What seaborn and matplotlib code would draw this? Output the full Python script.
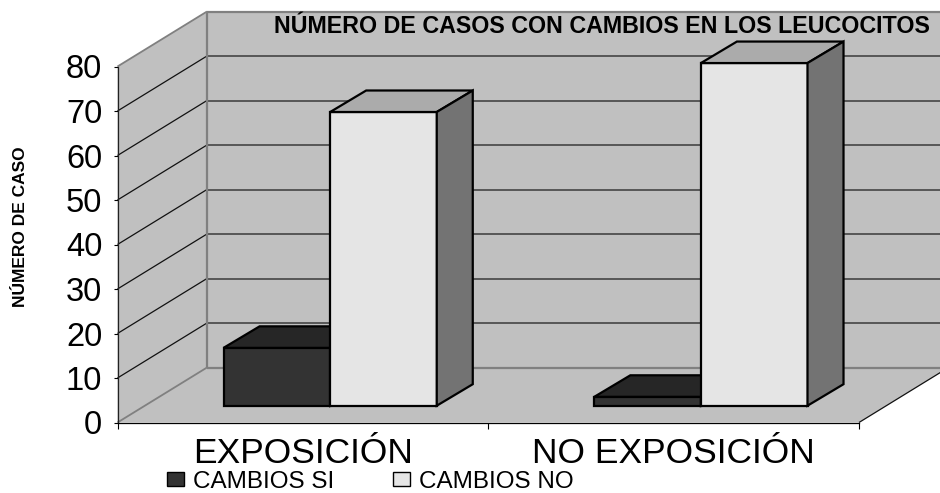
import matplotlib
matplotlib.use("Agg")
import matplotlib.pyplot as plt
from matplotlib.patches import Polygon
from matplotlib.transforms import Affine2D, Bbox
import numpy as np
import pandas as pd
import seaborn as sns

categories = ["EXPOSICIÓN", "NO EXPOSICIÓN"]
series_names = ["CAMBIOS SI", "CAMBIOS NO"]
cambios_si = [13, 2]
cambios_no = [66, 77]
y_ticks = [0, 10, 20, 30, 40, 50, 60, 70, 80]
title = "NÚMERO DE CASOS CON CAMBIOS EN LOS LEUCOCITOS"
y_label = "NÚMERO DE CASOS"

W, H = 940, 493
WALL = "#C0C0C0"
EDGE_GREY = "#808080"
COLORS = ["#333333", "#E5E5E5"]
TOPS = ["#262626", "#ABABAB"]
SIDES = ["#262626", "#737373"]

sns.set_theme(style="white")
plt.rcParams["font.family"] = ["Liberation Sans", "DejaVu Sans"]

df = pd.DataFrame({
    "cat": categories * 2,
    "serie": [series_names[0]] * 2 + [series_names[1]] * 2,
    "val": cambios_si + cambios_no,
})

fig = plt.figure(figsize=(W / 100, H / 100), dpi=100, facecolor="white")
L, R, B, T = 117.5, 859, H - 422.5, H - 66.5
ax = fig.add_axes([L / W, B / H, (R - L) / W, (T - B) / H])
ax.patch.set_visible(False)

sns.barplot(data=df, x="cat", y="val", hue="serie", hue_order=series_names,
            palette=COLORS, saturation=1, width=0.575, gap=0, errorbar=None,
            edgecolor="black", linewidth=1.6, ax=ax)
ax.set_xlim(-0.5, 1.5)
ax.set_ylim(0, 80)
ax.set_xlabel("")
ax.set_ylabel("")

# projection offsets, screen pixels
wall_off = Affine2D().translate(89.5, 55)
bar_off = Affine2D().translate(27.3, 16.8)
depth = np.array([36, 21.5])
front = ax.transData
back = ax.transData + wall_off
x0, x1 = ax.get_xlim()
ymax = ax.get_ylim()[1]


def poly(points, color, z, edge="none", lw=0):
    ax.add_patch(Polygon(points, closed=True, transform=None, facecolor=color,
                         edgecolor=edge, linewidth=lw, zorder=z, clip_on=False))


def seg(a, b, color, lw, z):
    ax.plot([a[0], b[0]], [a[1], b[1]], color=color, lw=lw, zorder=z,
            transform=None, clip_on=False, solid_capstyle="butt", scalex=False, scaley=False)


fp = lambda x, y: front.transform((x, y))
bp = lambda x, y: back.transform((x, y))

# walls and floor
poly([fp(x0, 0), fp(x0, ymax), bp(x0, ymax), bp(x0, 0)], WALL, 0.2)
poly([bp(x0, 0), bp(x0, ymax), bp(x1, ymax), bp(x1, 0)], WALL, 0.2)
poly([fp(x0, 0), fp(x1, 0), bp(x1, 0), bp(x0, 0)], WALL, 0.2)

for v in y_ticks[1:-1]:
    seg(fp(x0, v), bp(x0, v), "#111111", 0.9, 0.4)
    seg(bp(x0, v), bp(x1, v), "#3a3a3a", 1.1, 0.4)
seg(fp(x0, ymax), bp(x0, ymax), EDGE_GREY, 1.3, 0.5)
seg(bp(x0, ymax), bp(x1, ymax), EDGE_GREY, 1.6, 0.5)
seg(bp(x0, 0), bp(x0, ymax), EDGE_GREY, 1.6, 0.5)
seg(fp(x0, 0), bp(x0, 0), EDGE_GREY, 1.3, 0.5)
seg(bp(x0, 0), bp(x1, 0), EDGE_GREY, 1.6, 0.5)
seg(fp(x1, 0), bp(x1, 0), "#111111", 0.9, 0.5)

# bars: seaborn's rectangles shifted into the scene, faces derived from them
for s, container in enumerate(ax.containers):
    for rect in container:
        xa, xb = rect.get_x(), rect.get_x() + rect.get_width()
        h = rect.get_height()
        tr = ax.transData + bar_off
        rect.set_transform(tr)
        rect.set_clip_on(False)
        rect.set_zorder(2 + s)
        a = tr.transform((xa, h))
        b = tr.transform((xb, h))
        c = tr.transform((xb, 0))
        poly([a, b, b + depth, a + depth], TOPS[s], 2 + s, "black", 1.6)
        poly([b, c, c + depth, b + depth], SIDES[s], 2 + s, "black", 1.6)

# axes furniture
for side in ["top", "right"]:
    ax.spines[side].set_visible(False)
ax.spines["left"].set_color("#222222")
ax.spines["bottom"].set_color("black")
for side in ["left", "bottom"]:
    ax.spines[side].set_linewidth(0.9)
    ax.spines[side].set_zorder(1)

ax.set_yticks(y_ticks)
ax.set_xticks([-0.5, 0.5, 1.5])
ax.set_xticklabels([])
ax.set_xticks([0, 1], labels=categories, minor=True)
ax.tick_params(axis="y", left=True, length=3, width=0.8, color="black", pad=8,
               labelsize=23.5, labelcolor="black")
ax.tick_params(axis="x", which="major", bottom=True, length=4, width=0.8, color="black")
ax.tick_params(axis="x", which="minor", bottom=False, length=0, pad=10.5,
               labelsize=25.5, labelcolor="black")

fig.text(274 / W, 1 - 32.7 / H, title, fontsize=16.75, fontweight="bold", color="black",
         ha="left", va="baseline")
yl = fig.text(21 / W, 1 - 221 / H, y_label, fontsize=12.5, fontweight="bold", color="black",
              rotation=90, ha="center", va="center")
# the reference cuts the last letter of this label off at its top
yl.set_clip_box(Bbox([[0, 0], [60, H - 146.5]]))
yl.set_clip_on(True)

handles, labels = ax.get_legend_handles_labels()
if ax.get_legend():
    ax.get_legend().remove()
leg = fig.legend(handles, labels, ncol=2, frameon=False, fontsize=17.5, labelcolor="black",
                 loc="center left", bbox_to_anchor=(167 / W, 1 - 482 / H),
                 bbox_transform=fig.transFigure, borderpad=0, borderaxespad=0,
                 handlelength=0.7, handleheight=0.52, handletextpad=0.37, columnspacing=2.4)
for hd in leg.legend_handles:
    hd.set_edgecolor("black")
    hd.set_linewidth(1)

fig.savefig("out.png", dpi=100, facecolor="white")
